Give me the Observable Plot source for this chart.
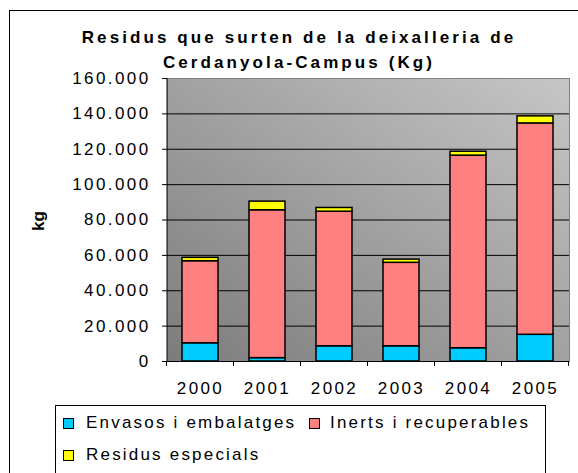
<!DOCTYPE html>
<html>
<head>
<meta charset="utf-8">
<script src="https://cdn.jsdelivr.net/npm/d3@7"></script>
<script src="https://cdn.jsdelivr.net/npm/@observablehq/plot@0.6"></script>
<style>
  html, body { margin: 0; padding: 0; background: #fff; }
  body { width: 578px; height: 473px; overflow: hidden; position: relative; font-family: "Liberation Sans", Arial, sans-serif; }
  #frame { position: absolute; left: 9px; top: 10px; width: 600px; height: 480px; border: 1px solid #000; box-sizing: border-box; }
  #title { position: absolute; left: 0; top: 25px; width: 598px; text-align: center; font-weight: bold; font-size: 17px; line-height: 25px; letter-spacing: 3.1px; color: #000; }
  #ylabel { position: absolute; left: 39px; top: 221px; transform: translate(-50%, -50%) rotate(-90deg); font-weight: bold; font-size: 17px; color: #000; }
  #chart { position: absolute; left: 0; top: 0; }
  #legend { position: absolute; left: 55px; top: 405px; width: 491px; height: 90px; border: 1px solid #000; box-sizing: border-box; background: #fff; }
  .item { position: absolute; font-size: 17px; line-height: 32px; letter-spacing: 2.2px; color: #000; white-space: nowrap; }
  .sw { position: absolute; width: 11px; height: 11px; border: 1.5px solid #000; box-sizing: border-box; }
</style>
</head>
<body>
<div id="frame"></div>
<div id="chart"></div>
<div id="title">Residus que surten de la deixalleria de<br>Cerdanyola-Campus (Kg)</div>
<div id="ylabel">kg</div>
<div id="legend"></div>
<script>
const years = ["2000", "2001", "2002", "2003", "2004", "2005"];
const seriesNames = ["Envasos i embalatges", "Inerts i recuperables", "Residus especials"];
const envasos = [10300, 1900, 8600, 8600, 7500, 15100];
const inerts = [46400, 83600, 76100, 47200, 108900, 119500];
const especials = [1900, 4900, 2100, 1800, 2200, 4000];
const colors = ["#00CCFF", "#FF8080", "#FFFF00"];
const yTicks = [0, 20000, 40000, 60000, 80000, 100000, 120000, 140000, 160000];

const seriesValues = [envasos, inerts, especials];
const data = [];
seriesNames.forEach((s, si) => {
  years.forEach((yr, i) => data.push({year: yr, serie: s, value: seriesValues[si][i]}));
});

const fmt = d3.formatLocale({decimal: ",", thousands: ".", grouping: [3], currency: ["", "€"]}).format(",");

const plot = Plot.plot({
  width: 578,
  height: 400,
  marginLeft: 167,
  marginRight: 9,
  marginTop: 78,
  marginBottom: 39,
  style: {fontFamily: "'Liberation Sans', Arial, sans-serif", fontSize: "17px", letterSpacing: "2.4px", color: "#000", background: "transparent", overflow: "visible"},
  x: {domain: years, paddingInner: 0.46, paddingOuter: 0.23, label: null, tickSize: 0, tickPadding: 20},
  y: {domain: [0, 160000], ticks: yTicks, tickFormat: fmt, label: null, tickSize: 5, tickPadding: 12},
  color: {domain: seriesNames, range: colors},
  marks: [
    Plot.frame({fill: "url(#bggrad)", stroke: "#808080", strokeWidth: 1}),
    Plot.ruleY(yTicks.slice(1, -1), {stroke: "#000", strokeWidth: 1}),
    Plot.barY(data, Plot.stackY({
      x: "year", y: "value", fill: "serie", order: seriesNames,
      stroke: "#000", strokeWidth: 1.5
    })),
    Plot.ruleY([0], {stroke: "#000", strokeWidth: 1})
  ]
});

const svg = d3.select(plot);
const defs = svg.insert("defs", ":first-child");
const grad = defs.append("linearGradient").attr("id", "bggrad")
  .attr("x1", 0).attr("y1", 1).attr("x2", 1).attr("y2", 0);
grad.append("stop").attr("offset", "0%").attr("stop-color", "#7c7c7c");
grad.append("stop").attr("offset", "100%").attr("stop-color", "#c6c6c6");

document.getElementById("chart").appendChild(plot);

const xs = plot.scale("x");
const ysc = plot.scale("y");
const stepX = xs.step;
const bwX = xs.bandwidth;
const leftX = xs.range[0];
const bottomY = ysc.range[0];
const topY = ysc.range[1];
svg.append("line").attr("x1", leftX).attr("x2", leftX).attr("y1", topY).attr("y2", bottomY + 0.5)
  .attr("stroke", "#000").attr("stroke-width", 1);
const bounds = years.map(yr => xs.apply(yr) - (stepX - bwX) / 2)
  .concat([xs.apply(years[years.length - 1]) + bwX + (stepX - bwX) / 2]);
svg.append("g").selectAll("line").data(bounds).join("line")
  .attr("x1", d => d).attr("x2", d => d).attr("y1", bottomY).attr("y2", bottomY + 5)
  .attr("stroke", "#000").attr("stroke-width", 1);

const legend = document.getElementById("legend");
const items = [
  {name: seriesNames[0], color: colors[0], sx: 7, tx: 30, ty: 1},
  {name: seriesNames[1], color: colors[1], sx: 253, tx: 274, ty: 1},
  {name: seriesNames[2], color: colors[2], sx: 7, tx: 30, ty: 33}
];
items.forEach(it => {
  const sw = document.createElement("div");
  sw.className = "sw";
  sw.style.left = it.sx + "px";
  sw.style.top = (it.ty + 11) + "px";
  sw.style.background = it.color;
  legend.appendChild(sw);
  const t = document.createElement("div");
  t.className = "item";
  t.style.left = it.tx + "px";
  t.style.top = it.ty + "px";
  t.textContent = it.name;
  legend.appendChild(t);
});
</script>
</body>
</html>
